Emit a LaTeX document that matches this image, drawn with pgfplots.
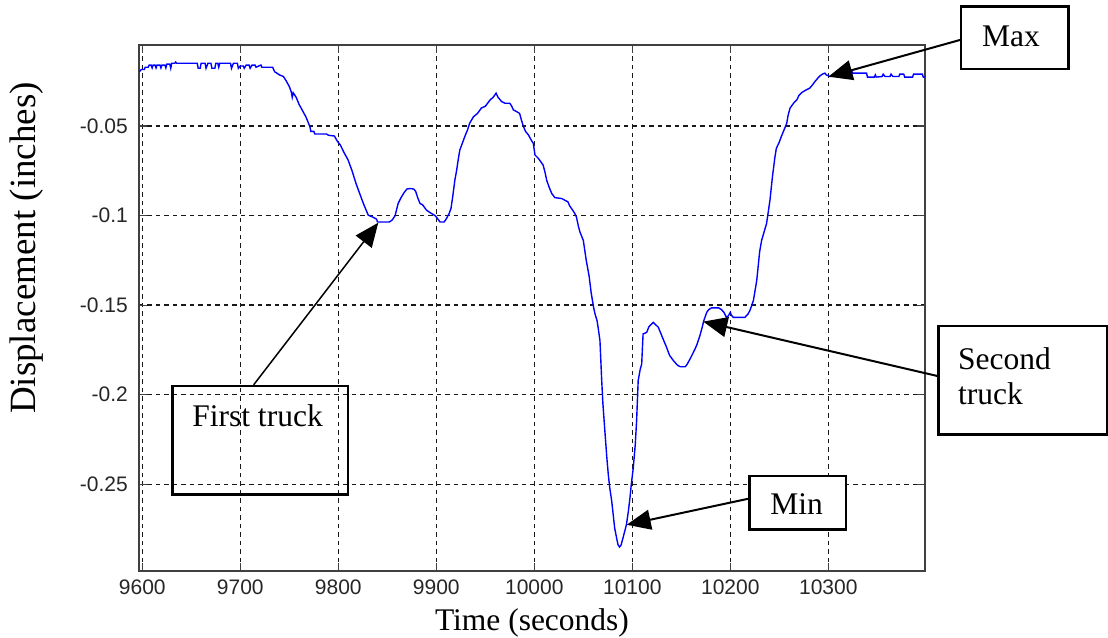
\documentclass[border=0pt]{standalone}
\usepackage{pgfplots}
\pgfplotsset{compat=1.18}
\usepackage{fontspec}
\setmainfont{Liberation Serif}
\newfontfamily\tickfont{Liberation Sans}
\usetikzlibrary{arrows.meta}
\newcommand\lab{\fontsize{31.5bp}{37bp}\selectfont}

\pgfplotstableread{
x y
9597 -0.0197
9599 -0.0185
9602 -0.0185
9603 -0.0172
9606 -0.0172
9607 -0.0160
9609 -0.0160
9610 -0.0176
9611 -0.0160
9613 -0.0160
9614 -0.0176
9615 -0.0160
9618 -0.0160
9619 -0.0176
9620 -0.0160
9623 -0.0160
9624 -0.0176
9625 -0.0155
9628 -0.0155
9629 -0.0178
9630 -0.0150
9633 -0.0150
9634 -0.0143
9635 -0.0150
9656 -0.0150
9657 -0.0178
9659 -0.0178
9660 -0.0150
9664 -0.0150
9665 -0.0178
9667 -0.0150
9670 -0.0150
9671 -0.0178
9674 -0.0178
9675 -0.0150
9677 -0.0150
9678 -0.0172
9679 -0.0150
9690 -0.0150
9691 -0.0178
9693 -0.0150
9697 -0.0150
9698 -0.0178
9700 -0.0165
9703 -0.0165
9704 -0.0178
9706 -0.0160
9709 -0.0160
9710 -0.0178
9712 -0.0160
9715 -0.0160
9716 -0.0172
9721 -0.0160
9722 -0.0172
9733 -0.0172
9734 -0.0185
9735 -0.0197
9740 -0.0215
9744 -0.0224
9747 -0.0250
9750 -0.0280
9752 -0.0310
9753 -0.0340
9754 -0.0315
9757 -0.0340
9760 -0.0380
9764 -0.0420
9767 -0.0450
9770 -0.0490
9771 -0.0504
9772 -0.0530
9775 -0.0530
9776 -0.0545
9788 -0.0545
9790 -0.0552
9796 -0.0556
9799 -0.0585
9802 -0.0606
9806 -0.0650
9810 -0.0690
9814 -0.0750
9818 -0.0820
9822 -0.0880
9825.6 -0.0933
9828 -0.0965
9830.6 -0.0998
9835 -0.1008
9839 -0.1020
9840 -0.1036
9852 -0.1036
9855 -0.1025
9858 -0.1000
9861 -0.0933
9864 -0.0900
9867 -0.0873
9870 -0.0852
9873 -0.0849
9877 -0.0852
9879 -0.0866
9881 -0.0900
9883.4 -0.0933
9886 -0.0940
9890 -0.0970
9894 -0.0985
9898.7 -0.1000
9901 -0.1015
9903.8 -0.1036
9908 -0.1036
9910 -0.1020
9913 -0.0990
9915 -0.0960
9916.7 -0.0896
9919 -0.0800
9920.8 -0.0746
9922 -0.0700
9924 -0.0634
9927 -0.0590
9929 -0.0560
9932 -0.0520
9934 -0.0485
9938 -0.0448
9942 -0.0430
9946 -0.0400
9950 -0.0390
9955 -0.0354
9958 -0.0340
9961 -0.0317
9963 -0.0340
9966.7 -0.0364
9970 -0.0373
9975 -0.0373
9977 -0.0390
9978.6 -0.0410
9982 -0.0420
9985 -0.0430
9987 -0.0470
9989 -0.0504
9991 -0.0530
9994 -0.0550
9997 -0.0580
9999 -0.0597
10000.7 -0.0662
10004 -0.0680
10009 -0.0718
10011 -0.0760
10012.6 -0.0802
10015 -0.0840
10017.8 -0.0877
10021 -0.0900
10028 -0.0905
10034.4 -0.0924
10036 -0.0945
10038 -0.0961
10041 -0.0985
10043 -0.1008
10045 -0.1060
10046.6 -0.1092
10050 -0.1138
10053 -0.1250
10056 -0.1340
10058 -0.1430
10060.5 -0.1512
10062 -0.1550
10064 -0.1586
10065 -0.1620
10067 -0.1698
10068.8 -0.1922
10070 -0.2050
10072 -0.2202
10074 -0.2350
10075.5 -0.2445
10077 -0.2520
10079 -0.2594
10082 -0.2744
10084 -0.2800
10085.4 -0.2837
10087 -0.2850
10088.5 -0.2840
10090.5 -0.2800
10094 -0.2725
10096 -0.2650
10097.6 -0.2576
10099 -0.2500
10101 -0.2408
10103 -0.2280
10104.4 -0.2146
10106 -0.1922
10108 -0.1860
10109.6 -0.1829
10110.5 -0.1720
10111 -0.1661
10114.7 -0.1652
10117 -0.1620
10121.4 -0.1596
10124 -0.1610
10126.6 -0.1624
10130 -0.1670
10135 -0.1736
10138 -0.1780
10142 -0.1810
10146 -0.1835
10149 -0.1844
10154 -0.1844
10156 -0.1830
10159 -0.1800
10164 -0.1745
10166 -0.1720
10169 -0.1670
10171 -0.1630
10173 -0.1586
10176 -0.1540
10178 -0.1525
10181 -0.1515
10188 -0.1515
10191 -0.1525
10193.5 -0.1540
10196 -0.1568
10198 -0.1560
10200 -0.1540
10201 -0.1555
10203 -0.1568
10215 -0.1568
10218 -0.1550
10220 -0.1530
10222 -0.1500
10223.6 -0.1474
10227 -0.1362
10230 -0.1200
10232 -0.1138
10237 -0.1045
10240.5 -0.0914
10243 -0.0784
10245.6 -0.0672
10247 -0.0625
10250 -0.0590
10252 -0.0560
10255 -0.0520
10257.6 -0.0485
10259 -0.0440
10261 -0.0400
10265 -0.0370
10268 -0.0354
10270 -0.0330
10273 -0.0313
10277 -0.0300
10281 -0.0289
10284 -0.0270
10286.4 -0.0252
10289 -0.0235
10291.5 -0.0220
10294 -0.0211
10296.6 -0.0205
10298 -0.0215
10301.7 -0.0224
10305 -0.0215
10312 -0.0205
10315 -0.0196
10316 -0.0205
10323 -0.0205
10324 -0.0195
10325 -0.0205
10339 -0.0205
10340 -0.0227
10347 -0.0227
10348 -0.0215
10349 -0.0227
10355 -0.0224
10356 -0.0211
10358 -0.0224
10363 -0.0224
10364 -0.0211
10366 -0.0224
10372 -0.0224
10373 -0.0211
10377 -0.0211
10378 -0.0227
10386 -0.0227
10387 -0.0211
10396 -0.0211
10397 -0.0227
10398.5 -0.0227
}\disp

\begin{document}
\begin{tikzpicture}
\useasboundingbox (-139bp,-67bp) rectangle (969bp,571bp);
\begin{axis}[
  at={(0,0)}, anchor=south west,
  scale only axis, width=786bp, height=526bp,
  xmin=9596.6, xmax=10398.7, ymin=-0.2984, ymax=-0.0048,
  clip=false,
  scaled x ticks=false, scaled y ticks=false,
  xtick={9600,9700,9800,9900,10000,10100,10200,10300},
  xticklabels={9600,9700,9800,9900,10000,10100,10200,10300},
  ytick={-0.25,-0.2,-0.15,-0.1,-0.05},
  yticklabels={-0.25,-0.2,-0.15,-0.1,-0.05},
  tick align=inside, xtick pos=both, ytick pos=both,
  major tick length=8bp,
  tick style={black!75, line width=1.2bp},
  ticklabel style={font=\tickfont\fontsize{21bp}{24bp}\selectfont, text=black!85},
  xticklabel style={inner sep=0pt, yshift=-9bp},
  yticklabel style={inner sep=0pt, xshift=-11bp},
  grid=major,
  major grid style={black!90, line width=1.5bp, dash pattern=on 4.5bp off 4bp},
  axis line style={black!75, line width=1.6bp},
  xlabel={Time (seconds)},
  ylabel={Displacement (inches)},
  xlabel style={font=\lab, at={(axis description cs:0.5,0)}, anchor=base, yshift=-59bp},
  ylabel style={font=\fontsize{37bp}{42bp}\selectfont, at={(axis description cs:-0.1425,0.614)}, anchor=center},
]
\addplot[color=blue, line width=1.4bp] table[x=x, y=y] {\disp};

% First truck
\node[draw, line width=2.5bp, minimum width=175.5bp, minimum height=108.5bp, inner sep=0pt] at (axis cs:9720.1,-0.2255) {};
\node[anchor=base, inner sep=0pt, font=\lab] at (axis cs:9717.6,-0.218) {First truck};
\draw[line width=1.5bp, -{Triangle[length=24bp,width=20bp]}] (axis cs:9713.6,-0.1945) -- (axis cs:9840.8,-0.104);

% Second truck
\node[draw, line width=2.5bp, fill=white, minimum width=168.5bp, minimum height=108.5bp, inner sep=0pt] at (axis cs:10498.2,-0.192) {};
\node[anchor=base west, inner sep=0pt, font=\lab] at (axis cs:10432.3,-0.1862) {Second};
\node[anchor=base west, inner sep=0pt, font=\lab] at (axis cs:10432.3,-0.2057) {truck};
\draw[line width=2bp, -{Triangle[length=24bp,width=20bp]}] (axis cs:10410.9,-0.1895) -- (axis cs:10172.4,-0.1592);

% Min
\node[draw, line width=2.5bp, fill=white, minimum width=96.5bp, minimum height=53.5bp, inner sep=0pt] at (axis cs:10268.6,-0.2604) {};
\node[anchor=base, inner sep=0pt, font=\lab] at (axis cs:10267.8,-0.2671) {Min};
\draw[line width=2bp, -{Triangle[length=24bp,width=20bp]}] (axis cs:10218.1,-0.2581) -- (axis cs:10094.3,-0.2726);

% Max
\node[draw, line width=2.5bp, fill=white, minimum width=107.5bp, minimum height=62.5bp, inner sep=0pt] at (axis cs:10490.5,-0.00062) {};
\node[anchor=base, inner sep=0pt, font=\lab] at (axis cs:10486.4,-0.00575) {Max};
\draw[line width=2bp, -{Triangle[length=24bp,width=20bp]}] (axis cs:10434.4,-0.002) -- (axis cs:10300.1,-0.0225);
\end{axis}
\end{tikzpicture}
\end{document}
